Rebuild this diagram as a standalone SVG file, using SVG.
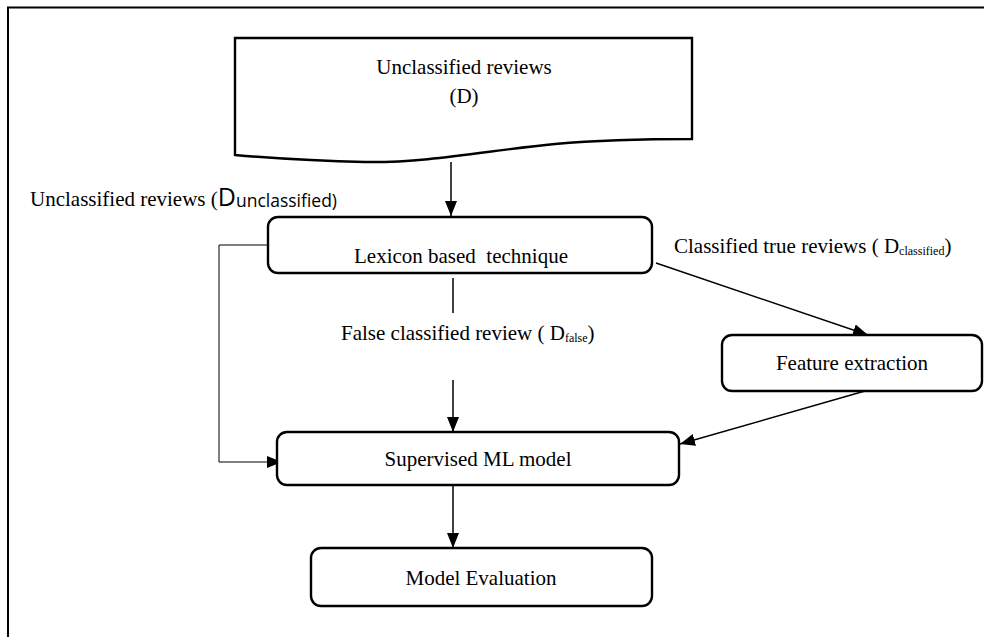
<svg xmlns="http://www.w3.org/2000/svg" width="984" height="637" viewBox="0 0 984 637">
  <defs>
    <marker id="arr" viewBox="0 0 15 12" refX="15" refY="6" markerWidth="15" markerHeight="12" markerUnits="userSpaceOnUse" orient="auto">
      <path d="M0,0 L15,6 L0,12 Z" fill="#000"/>
    </marker>
  </defs>
  <style>
    .box { fill: #fff; stroke: #000; stroke-width: 2.4; }
    .lbl { font-family: "Liberation Serif", "Times New Roman", serif; font-size: 21px; fill: #000; }
    .sub { font-size: 12px; }
    .sans { font-family: "Open Sans", "Noto Sans", sans-serif; }
    .conn { fill: none; stroke: #000; stroke-width: 1.5; }
    .thin { fill: none; stroke: #000; stroke-width: 1; }
  </style>
  <rect width="984" height="637" fill="#fff"/>
  <g id="frame">
    <path d="M8,637 V7.5 H984" fill="none" stroke="#000" stroke-width="2"/>
  </g>

  <g id="connectors">
    <line class="conn" x1="451" y1="162" x2="451" y2="216" marker-end="url(#arr)"/>
    <polyline class="thin" points="268,245 219,245 219,462 282,462" marker-end="url(#arr)"/>
    <line class="conn" x1="453" y1="278" x2="453" y2="313"/>
    <line class="conn" x1="453" y1="380" x2="453" y2="432" marker-end="url(#arr)"/>
    <line class="conn" x1="656" y1="263" x2="868" y2="335" marker-end="url(#arr)"/>
    <line class="conn" x1="865" y1="391" x2="680" y2="444" marker-end="url(#arr)"/>
    <line class="conn" x1="453" y1="485" x2="453" y2="548" marker-end="url(#arr)"/>
  </g>

  <g id="label-unclassified">
    <text class="lbl" x="30" y="206">Unclassified reviews (<tspan class="sans" font-size="25px">D</tspan><tspan class="sans" font-size="17.5px" dy="1">unclassified)</tspan></text>
  </g>
  <g id="label-classified">
    <text class="lbl" x="674" y="253">Classified true reviews ( D<tspan class="sub" dy="2">classified</tspan><tspan dy="-2">)</tspan></text>
  </g>
  <g id="label-false">
    <text class="lbl" x="341" y="340">False classified review ( D<tspan class="sub" dy="2">false</tspan><tspan dy="-2">)</tspan></text>
  </g>

  <g id="node-reviews">
    <path class="box" d="M235,38 H692 V139 C650,139 600,140 555,144 C490,150 430,163 365,162 C310,161 270,158 235,155 Z"/>
    <text class="lbl" x="464" y="74" text-anchor="middle">Unclassified reviews</text>
    <text class="lbl" x="464" y="103" text-anchor="middle">(D)</text>
  </g>
  <g id="node-lexicon">
    <rect class="box" x="268" y="217" width="384" height="56" rx="10"/>
    <text class="lbl" x="461" y="263" text-anchor="middle" xml:space="preserve">Lexicon based  technique</text>
  </g>
  <g id="node-feature">
    <rect class="box" x="722" y="335" width="260" height="56" rx="10"/>
    <text class="lbl" x="852" y="370" text-anchor="middle">Feature extraction</text>
  </g>
  <g id="node-supervised">
    <rect class="box" x="277" y="432" width="402" height="53" rx="10"/>
    <text class="lbl" x="478" y="466" text-anchor="middle">Supervised ML model</text>
  </g>
  <g id="node-evaluation">
    <rect class="box" x="311" y="548" width="341" height="58" rx="10"/>
    <text class="lbl" x="481" y="585" text-anchor="middle">Model Evaluation</text>
  </g>
</svg>
